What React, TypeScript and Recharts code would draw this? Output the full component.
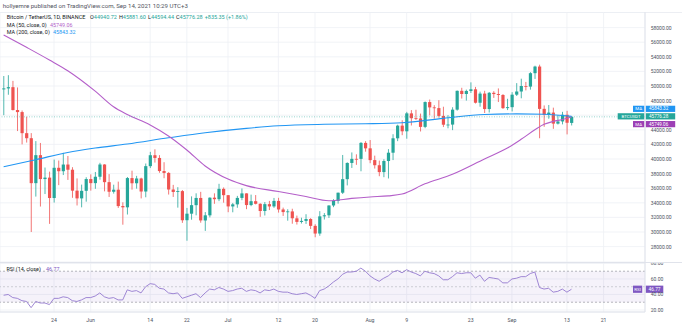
import React from 'react';
import { ComposedChart, Bar, Line, XAxis, YAxis, CartesianGrid, ReferenceLine, ReferenceArea } from 'recharts';

const UP = '#26a69a';
const DOWN = '#ef5350';
const MA50_COLOR = '#b45fc9';
const MA200_COLOR = '#2196f3';
const RSI_COLOR = '#7e57c2';
const RSI_LINE = '#9479cf';
const GRID = '#eef0f5';
const TEXT = '#4c525e';

// BTCUSDT daily candles, day 0 = 13 May 2021 ... day 124 = 14 Sep 2021
const opens = [
  49537, 49671, 49841, 46708, 46427, 43538, 42849, 36690, 40526, 37252, 37449, 34655, 38796, 38325, 39241, 38530,
  35663, 34605, 35641, 37253, 36694, 37568, 39246, 36829, 35513, 35796, 33556, 33380, 37388, 36677, 37331, 35546,
  39020, 40516, 40143, 38349, 38092, 35820, 35483, 35600, 31614, 32509, 33675, 34663, 31576, 32283, 34702, 34494,
  35911, 35045, 33502, 33787, 34668, 35288, 33690, 34220, 33863, 32875, 33815, 33502, 34259, 33086, 32729, 32820,
  31874, 31383, 31520, 31778, 30839, 29790, 32145, 32288, 33634, 34262, 35381, 37237, 39456, 40020, 40016, 42206,
  41461, 39850, 39146, 38207, 39723, 40862, 42836, 44572, 43795, 46248, 45585, 45552, 44399, 47800, 47068, 46974,
  45902, 44696, 44714, 46760, 49339, 48905, 49322, 49546, 47706, 48961, 46843, 49069, 48896, 48768, 46970, 47100,
  48811, 49246, 49999, 49918, 51756, 52666, 46869, 46049, 46357, 44843, 45144, 46063, 44940.72,
];
const highs = [
  51367, 51483, 50700, 49800, 46643, 45800, 43546, 42451, 42200, 38829, 38270, 39920, 39791, 40841, 40411, 38877,
  37338, 36488, 37499, 37894, 38225, 39476, 39289, 37925, 36480, 36900, 34068, 37534, 38400, 37690, 37437, 39380,
  40978, 41330, 40527, 39560, 38200, 36457, 36137, 35750, 33298, 34881, 35298, 35500, 32730, 34749, 35297, 36600,
  36100, 35057, 33977, 34945, 35967, 35293, 35118, 35059, 33929, 34100, 34262, 34666, 34679, 33340, 33114, 33185,
  32249, 31955, 32435, 31899, 31063, 32858, 32591, 33650, 34500, 35398, 40550, 39542, 40900, 40640, 42316, 42448,
  42599, 40459, 39780, 39969, 41350, 43392, 44700, 45310, 46454, 46700, 46743, 46218, 47887, 48144, 47372, 48053,
  47160, 46000, 47089, 49382, 49757, 49500, 50500, 49875, 49229, 49343, 49178, 49290, 49667, 48888, 48246, 49156,
  50392, 51000, 50558, 51900, 52780, 52920, 47340, 47399, 47033, 45987, 46460, 46598, 45881.6,
];
const lows = [
  46000, 48800, 46650, 43825, 42001, 42250, 30000, 34850, 33488, 35200, 31111, 34031, 36420, 37800, 37134, 34684,
  33632, 33379, 34153, 35666, 35920, 37170, 35567, 34800, 35258, 33300, 31000, 32396, 35800, 35936, 34600, 34757,
  38757, 39506, 38116, 37365, 35129, 34803, 33336, 31251, 28805, 31683, 32286, 31275, 30151, 32000, 33862, 34225,
  34017, 32711, 32699, 33316, 34357, 33125, 33532, 33777, 32077, 32261, 33004, 33306, 32658, 32202, 31550, 31133,
  31020, 31164, 31108, 30407, 29278, 29482, 31708, 31924, 33401, 33881, 35205, 36383, 38772, 39200, 38316, 41000,
  39422, 38690, 37642, 37508, 37332, 39853, 42446, 43261, 42779, 44589, 45341, 43770, 44217, 45971, 45500, 45660,
  44376, 44203, 43955, 46622, 48280, 48000, 49042, 47600, 47163, 46300, 46364, 48370, 47800, 46853, 46700, 46513,
  48630, 48316, 49400, 49500, 50969, 42844, 44412, 45514, 44132, 44722, 44743, 43370, 44594.44,
];
const closes = [
  49671, 49841, 46708, 46426, 43538, 42849, 36690, 40526, 37252, 37449, 34655, 38796, 38325, 39241, 38530, 35663,
  34605, 35641, 37253, 36694, 37568, 39246, 36829, 35513, 35796, 33552, 33380, 37388, 36675, 37331, 35546, 39020,
  40516, 40144, 38349, 38092, 35820, 35483, 35600, 31608, 32509, 33678, 34663, 31584, 32283, 34700, 34494, 35911,
  35045, 33504, 33787, 34668, 35287, 33690, 34220, 33862, 32875, 33815, 33502, 34259, 33086, 32729, 32820, 31880,
  31383, 31520, 31778, 30839, 29790, 32145, 32287, 33634, 34259, 35381, 37237, 39457, 40019, 40016, 42206, 41461,
  39846, 39147, 38207, 39723, 40862, 42836, 44572, 43794, 46253, 45585, 45551, 44399, 47800, 47068, 46974, 45901,
  44696, 44714, 46760, 49339, 48905, 49321, 49546, 47706, 48960, 46843, 49070, 48896, 48767, 46970, 47101, 48811,
  49246, 49999, 49915, 51756, 52663, 46863, 46049, 46357, 44845, 45144, 46063, 44963, 45776.28,
];

// moving averages at these days
const ma50Days = [0, 5, 10, 14, 20, 24, 27, 32, 36, 40, 44, 49, 53, 60, 66, 71, 76, 80, 84, 87, 92, 98, 105, 110, 113, 116, 118, 120, 122, 124];
const ma50Values = [
  57000, 55300, 53560, 52100, 49300, 47160, 46100, 44660, 43150, 41230, 39050, 37250, 36350, 35540, 34860, 34280,
  34600, 34800, 34950, 35200, 36600, 37900, 40000, 41500, 42700, 44000, 44750, 45150, 45400, 45749.06,
];
const ma200Days = [0, 7, 14, 20, 27, 36, 44, 53, 60, 70, 79, 87, 96, 105, 112, 118, 124];
const ma200Values = [
  38950, 39900, 40900, 41500, 42050, 42900, 43600, 44200, 44550, 44750, 44820, 44970, 45570, 46100, 46180, 46120, 45843.32,
];

const rsiValues = [
  39, 40, 36, 35, 32, 31, 23, 31, 29, 29, 27, 35, 35, 37, 36, 32, 31, 33, 36, 36, 38, 42, 37, 35, 36, 33, 33, 46, 44,
  45, 42, 50, 54, 53, 48, 47, 42, 41, 42, 35, 37, 39, 41, 36, 42, 47, 46, 49, 47, 44, 45, 47, 48, 44, 46, 45, 42, 46,
  45, 47, 44, 43, 43, 41, 40, 41, 42, 39, 35, 45, 47, 51, 56, 60, 66, 69, 69, 70, 74, 70, 64, 60, 57, 61, 64, 69, 71,
  68, 72, 69, 67, 64, 70, 68, 67, 64, 59, 59, 63, 68, 67, 68, 68, 61, 65, 57, 62, 61, 60, 55, 55, 60, 61, 63, 63, 67,
  69, 49, 47, 48, 43, 44, 47, 43, 46.77,
];

const tickDays = [11, 19, 32, 40, 49, 60, 68, 80, 88, 102, 111, 123, 131];
const tickLabels = ['24', 'Jun', '14', '22', 'Jul', '12', '20', 'Aug', '9', '23', 'Sep', '13', '21'];
const priceTicks = [28000, 30000, 32000, 34000, 36000, 38000, 40000, 42000, 44000, 46000, 48000, 50000, 52000, 54000, 56000, 58000];
const rsiTicks = [20, 40, 60, 80];

const X_DOMAIN: [number, number] = [-0.79, 140.05];

const last = closes.length - 1;
const rows = closes.map((c, i) => ({
  i,
  open: opens[i],
  high: highs[i],
  low: lows[i],
  close: c,
  rsi: rsiValues[i],
  ma50: ma50Days.includes(i) ? ma50Values[ma50Days.indexOf(i)] : null,
  ma200: ma200Days.includes(i) ? ma200Values[ma200Days.indexOf(i)] : null,
}));

const Candle = (props: any) => {
  const { x, y, width, height, payload } = props;
  if (!payload || x == null || y == null) return null;
  const { open, close, high, low } = payload;
  const top = Math.min(y, y + height);
  const h = Math.abs(height);
  const perUnit = h / (high - low || 1);
  const cx = x + width / 2;
  const bodyTop = top + (high - Math.max(open, close)) * perUnit;
  const bodyH = Math.max(Math.abs(open - close) * perUnit, 0.8);
  const color = close >= open ? UP : DOWN;
  return (
    <g>
      <line x1={cx} x2={cx} y1={top} y2={top + h} stroke={color} strokeWidth={0.8} />
      <rect x={cx - 1.6} y={bodyTop} width={3.2} height={bodyH} fill={color} />
    </g>
  );
};

// price-scale labels; the one sitting under the stacked tags is hidden, as in TradingView
const PriceTick = (props: any) => {
  const { x, y, payload } = props;
  if (Math.abs(payload.value - closes[last]) < 1200) return null;
  return (
    <text x={x} y={y} fontSize={5} fill={TEXT} dominantBaseline="central">{payload.value.toFixed(2)}</text>
  );
};

// stacked price-scale tags (TradingView pushes overlapping ones apart)
const PriceTags = (props: any) => {
  const vb = props.viewBox;
  if (!vb) return null;
  const right = vb.x + vb.width;
  const tags = [
    { dy: -8, name: 'MA', w: 12, value: ma200Values[ma200Values.length - 1], color: MA200_COLOR },
    { dy: -0.5, name: 'BTCUSDT', w: 27.3, value: closes[last], color: UP },
    { dy: 7.3, name: 'MA', w: 12, value: ma50Values[ma50Values.length - 1], color: '#9c3fb5' },
  ];
  return (
    <g>
      {tags.map((t, k) => (
        <g key={k}>
          <rect x={right - t.w} y={vb.y + t.dy - 3.1} width={t.w - 0.6} height={6.2} fill={t.color} />
          <rect x={right + 0.7} y={vb.y + t.dy - 3.1} width={29.5} height={6.2} fill={t.color} />
          <text x={right - t.w / 2 - 0.3} y={vb.y + t.dy} fontSize={4.4} fill="#fff" textAnchor="middle" dominantBaseline="central">{t.name}</text>
          <text x={right + 4} y={vb.y + t.dy} fontSize={4.6} fill="#fff" dominantBaseline="central">{t.value.toFixed(2)}</text>
        </g>
      ))}
    </g>
  );
};

const RsiTag = (props: any) => {
  const vb = props.viewBox;
  if (!vb) return null;
  const right = vb.x + vb.width;
  return (
    <g>
      <rect x={right - 12} y={vb.y - 3.6} width={9.2} height={7.2} fill={RSI_COLOR} />
      <rect x={right + 0.7} y={vb.y - 3.6} width={17.6} height={7.2} fill={RSI_COLOR} />
      <text x={right - 7.4} y={vb.y} fontSize={4.4} fill="#fff" textAnchor="middle" dominantBaseline="central">RSI</text>
      <text x={right + 3.5} y={vb.y} fontSize={4.8} fill="#fff" dominantBaseline="central">{rsiValues[last].toFixed(2)}</text>
    </g>
  );
};

const fmt2 = (v: number) => v.toFixed(2);
const dayLabel = (v: number) => tickLabels[tickDays.indexOf(v)] ?? '';

export default function App() {
  const font = 'Roboto, "DejaVu Sans", sans-serif';
  return (
    <div style={{ position: 'absolute', left: 0, top: 0, width: 682, height: 330, background: '#fff', overflow: 'hidden', fontFamily: font }}>
      <div style={{ position: 'absolute', left: 0, top: 11.5, width: 682, height: 1, background: '#eceef3' }} />
      <div style={{ position: 'absolute', left: 0, top: 12 }}>
        <ComposedChart width={682} height={250} data={rows} margin={{ top: 0, right: 0, bottom: 0, left: 0 }}>
          <CartesianGrid stroke={GRID} strokeWidth={0.8} />
          <XAxis dataKey="i" type="number" domain={X_DOMAIN} ticks={tickDays} allowDataOverflow hide />
          <YAxis
            orientation="right"
            width={37}
            domain={[25890, 60137]}
            ticks={priceTicks}
            interval={0}
            allowDataOverflow
            tickLine={false}
            tickSize={4}
            tickMargin={1.7}
            axisLine={{ stroke: '#e0e3eb' }}
            tick={<PriceTick />}
          />
          <Line dataKey="ma200" type="monotone" stroke={MA200_COLOR} strokeWidth={1.1} dot={false} connectNulls isAnimationActive={false} />
          <Line dataKey="ma50" type="monotone" stroke={MA50_COLOR} strokeWidth={1.1} dot={false} connectNulls isAnimationActive={false} />
          <Bar dataKey={(d: any) => [d.low, d.high]} shape={<Candle />} isAnimationActive={false} />
          <ReferenceLine y={closes[last]} stroke={UP} strokeOpacity={0.6} strokeWidth={0.8} strokeDasharray="1 1.5" label={<PriceTags />} />
        </ComposedChart>
      </div>
      <div style={{ position: 'absolute', left: 0, top: 262 }}>
        <ComposedChart width={682} height={68} data={rows} margin={{ top: 0, right: 0, bottom: 0, left: 0 }}>
          <CartesianGrid stroke={GRID} strokeWidth={0.8} />
          <XAxis
            dataKey="i"
            type="number"
            domain={X_DOMAIN}
            ticks={tickDays}
            interval={0}
            allowDataOverflow
            height={18}
            tickFormatter={dayLabel}
            tickLine={false}
            tickSize={4}
            tickMargin={2}
            axisLine={{ stroke: '#e0e3eb' }}
            tick={{ fontSize: 5.2, fill: TEXT, fontFamily: font }}
          />
          <YAxis
            orientation="right"
            width={37}
            domain={[17.4, 81.9]}
            ticks={rsiTicks}
            interval={0}
            allowDataOverflow
            tickFormatter={fmt2}
            tickLine={false}
            tickSize={4}
            tickMargin={1.7}
            axisLine={{ stroke: '#e0e3eb' }}
            tick={{ fontSize: 5, fill: TEXT, fontFamily: font }}
          />
          <ReferenceArea y1={30} y2={70} fill={RSI_COLOR} fillOpacity={0.08} stroke="none" />
          <ReferenceLine y={70} stroke="#9598a1" strokeWidth={0.7} strokeDasharray="2 2" />
          <ReferenceLine y={50} stroke="#9598a1" strokeWidth={0.6} strokeDasharray="2 2" strokeOpacity={0.7} />
          <ReferenceLine y={30} stroke="#9598a1" strokeWidth={0.7} strokeDasharray="2 2" />
          <Line dataKey="rsi" type="linear" stroke={RSI_LINE} strokeWidth={0.9} dot={false} isAnimationActive={false} />
          <ReferenceLine y={rsiValues[last]} stroke="none" label={<RsiTag />} />
        </ComposedChart>
      </div>
      <div style={{ position: 'absolute', left: 0, top: 261.5, width: 682, height: 1, background: '#e0e3eb' }} />
      <svg width={682} height={330} style={{ position: 'absolute', left: 0, top: 0, pointerEvents: 'none' }} fontFamily={font}>
        <text x={2.7} y={5} fontSize={6.1} fill="#50535e" dominantBaseline="central">
          hollyemre published on TradingView.com, Sep 14, 2021 10:29 UTC+3
        </text>
        <text y={17.3} fontSize={5.5} dominantBaseline="central" fill="#131722">
          <tspan x={6.7}>Bitcoin / TetherUS, 1D, BINANCE</tspan>
          <tspan x={90}>O</tspan><tspan fill={UP}>{opens[last].toFixed(2)}</tspan>
          <tspan dx={2}>H</tspan><tspan fill={UP}>{highs[last].toFixed(2)}</tspan>
          <tspan dx={2}>L</tspan><tspan fill={UP}>{lows[last].toFixed(2)}</tspan>
          <tspan dx={2}>C</tspan><tspan fill={UP}>{closes[last].toFixed(2)}</tspan>
          <tspan dx={2} fill={UP}>+835.35 (+1.86%)</tspan>
        </text>
        <text y={25} fontSize={5.4} dominantBaseline="central" fill="#131722">
          <tspan x={6.7}>MA (50, close, 0)</tspan>
          <tspan x={50} fill={MA50_COLOR}>{ma50Values[ma50Values.length - 1].toFixed(2)}</tspan>
        </text>
        <text y={32.3} fontSize={5.4} dominantBaseline="central" fill="#131722">
          <tspan x={6.7}>MA (200, close, 0)</tspan>
          <tspan x={53} fill={MA200_COLOR}>{ma200Values[ma200Values.length - 1].toFixed(2)}</tspan>
        </text>
        <text y={268.5} fontSize={5.4} dominantBaseline="central" fill="#131722">
          <tspan x={6.5}>RSI (14, close)</tspan>
          <tspan x={46} fill={RSI_COLOR}>{rsiValues[last].toFixed(2)}</tspan>
        </text>
      </svg>
    </div>
  );
}
